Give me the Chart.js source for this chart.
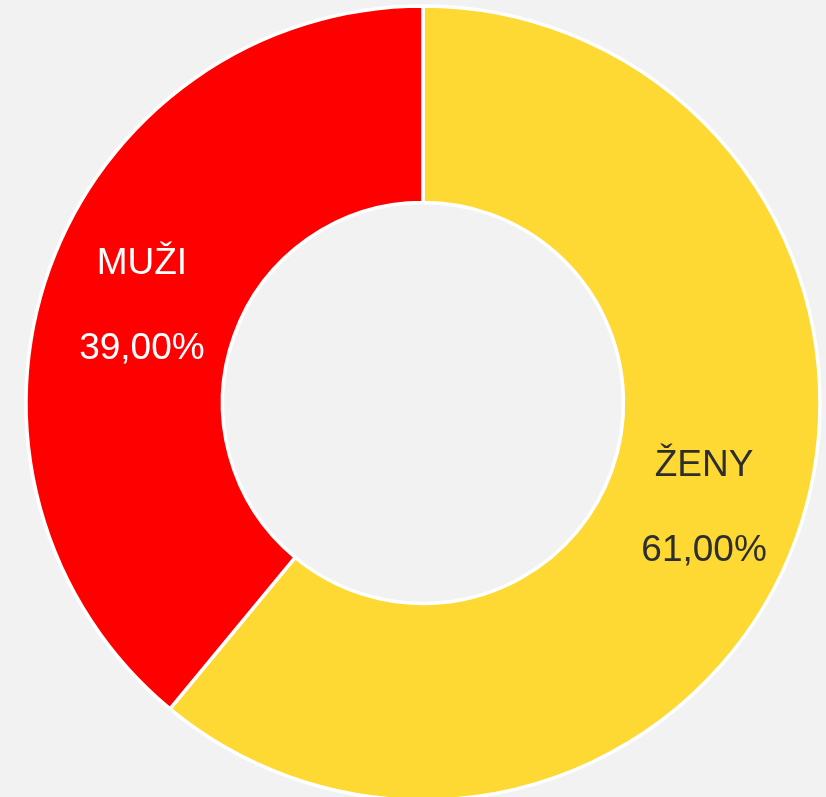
<!DOCTYPE html>
<html>
<head>
<meta charset="utf-8">
<script src="https://cdn.jsdelivr.net/npm/chart.js@4/dist/chart.umd.min.js"></script>
<style>
  html, body { margin: 0; padding: 0; background: #f2f2f2; overflow: hidden; width: 826px; height: 797px; }
  #wrap { position: absolute; left: 0; top: 0; width: 846px; height: 806px; }
</style>
</head>
<body>
<div id="wrap"><canvas id="c" width="846" height="806"></canvas></div>
<script>
const categories = ['ŽENY', 'MUŽI'];
const values = [61, 39];
const colors = ['#FED933', '#FF0000'];
const labelColors = ['#2e2e2e', '#ffffff'];

const labelPlugin = {
  id: 'sliceLabels',
  afterDatasetsDraw(chart) {
    const ctx = chart.ctx;
    const meta = chart.getDatasetMeta(0);
    const total = values.reduce((a, b) => a + b, 0);
    ctx.save();
    ctx.font = '37px "Liberation Sans", Arial, sans-serif';
    ctx.textAlign = 'center';
    ctx.textBaseline = 'middle';
    meta.data.forEach((arc, i) => {
      const p = arc.getCenterPoint();
      const pct = (values[i] / total * 100).toFixed(2).replace('.', ',') + '%';
      ctx.fillStyle = labelColors[i];
      ctx.fillText(categories[i], p.x, p.y - 38);
      ctx.fillText(pct, p.x, p.y + 47);
    });
    ctx.restore();
  }
};

new Chart(document.getElementById('c'), {
  type: 'doughnut',
  data: {
    labels: categories,
    datasets: [{
      data: values,
      backgroundColor: colors,
      borderColor: '#ffffff',
      borderWidth: 3.5
    }]
  },
  options: {
    responsive: false,
    animation: false,
    radius: 397,
    cutout: '50.5%',
    layout: { padding: 0 },
    plugins: {
      legend: { display: false },
      tooltip: { enabled: false }
    }
  },
  plugins: [labelPlugin]
});
</script>
</body>
</html>
